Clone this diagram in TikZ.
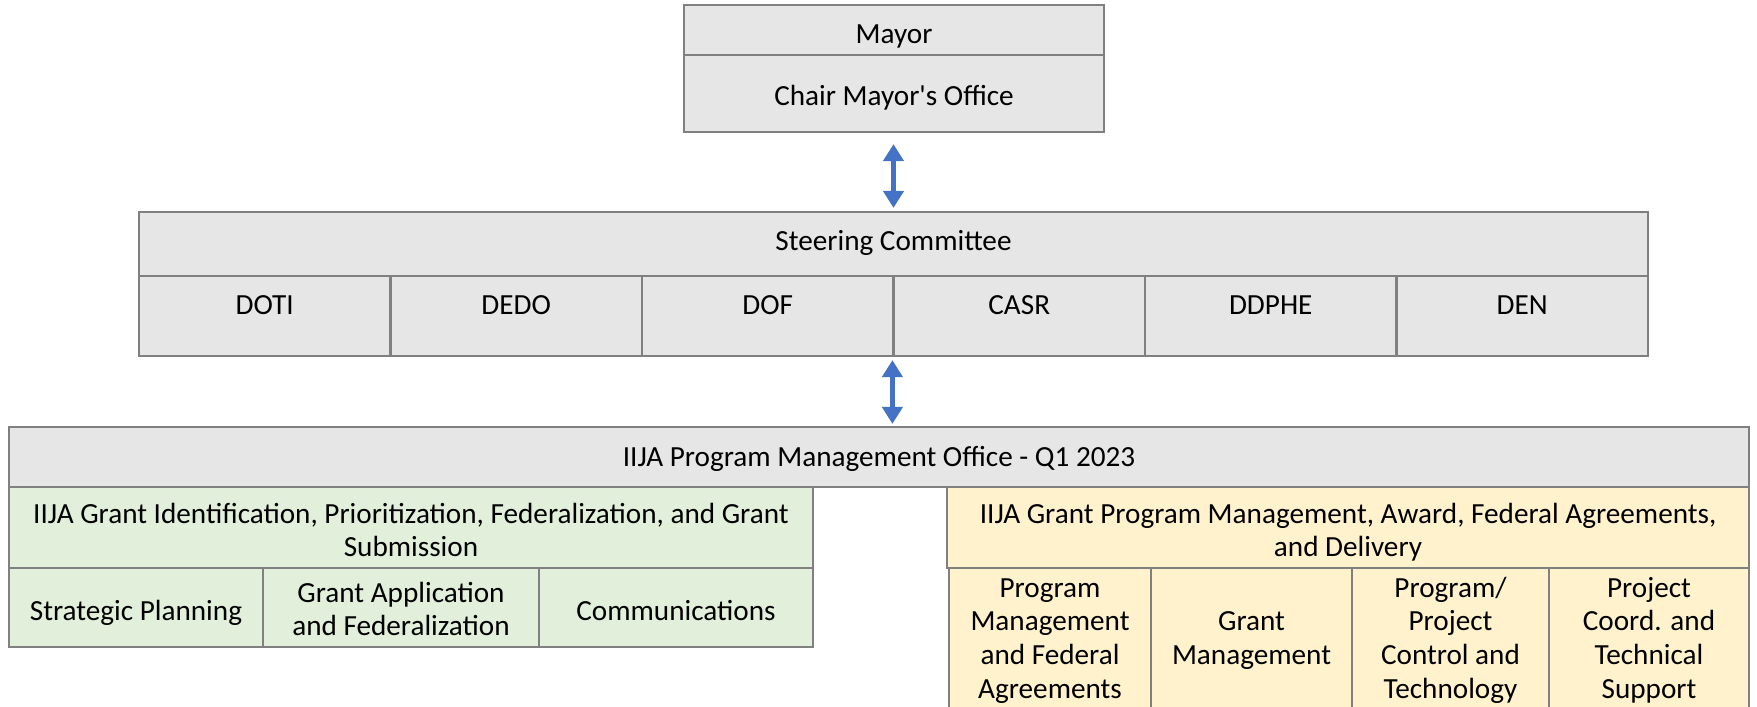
\documentclass[tikz,border=0pt]{standalone}
\usepackage{fontspec}
\setmainfont{Carlito}
\usetikzlibrary{arrows.meta}
\definecolor{cellgray}{HTML}{E6E6E6}
\definecolor{cellline}{HTML}{808080}
\definecolor{cellgreen}{HTML}{E2EFDA}
\definecolor{cellyellow}{HTML}{FFF2CC}
\definecolor{arrowblue}{HTML}{4472C4}
\tikzset{
  cell/.style={draw=cellline, line width=1.1pt, inner sep=0pt, align=center,
    font=\fontsize{14.6pt}{16.8pt}\selectfont},
  textbox/.style 2 args={text height=#1, text depth=#2},
  graycell/.style={cell, fill=cellgray},
  greencell/.style={cell, fill=cellgreen},
  yellowcell/.style={cell, fill=cellyellow},
  topcell/.style={graycell, textbox={19pt}{21pt}},
  linkarrow/.style={arrowblue, line width=2.5pt,
    {Triangle[width=10pt,length=8.5pt]}-{Triangle[width=10pt,length=8.5pt]}}
}
\begin{document}
\begin{tikzpicture}[x=0.5pt,y=-0.5pt]
\useasboundingbox (0,0) rectangle (1757,707);
% Mayor
\node[graycell, textbox={19pt}{6pt}, minimum width=210pt, minimum height=25pt] (mayor) at (894,30) {Mayor};
\node[graycell, textbox={25.3pt}{13.2pt}, minimum width=210pt, minimum height=38.5pt] (chair) at (894,93.5) {Chair Mayor\textquotesingle s Office};
% Steering committee
\node[graycell, textbox={19.1pt}{12.9pt}, minimum width=754.5pt, minimum height=32pt] (steer) at (893.5,244) {Steering Committee};
\node[topcell, minimum width=125.75pt, minimum height=40pt] (doti) at (264.75,316) {DOTI};
\node[topcell, minimum width=125.75pt, minimum height=40pt] (dedo) at (516.25,316) {DEDO};
\node[topcell, minimum width=125.75pt, minimum height=40pt] (dof) at (767.75,316) {DOF};
\node[topcell, minimum width=125.75pt, minimum height=40pt] (casr) at (1019.25,316) {CASR};
\node[topcell, minimum width=125.75pt, minimum height=40pt] (ddphe) at (1270.75,316) {DDPHE};
\node[topcell, minimum width=125.75pt, minimum height=40pt] (den) at (1522.25,316) {DEN};
% PMO
\node[graycell, textbox={19.8pt}{10.2pt}, minimum width=870pt, minimum height=30pt] (pmo) at (879,457) {IIJA Program Management Office - Q1 2023};
% Green branch
\node[greencell, textbox={34.8pt}{5.7pt}, minimum width=402pt, minimum height=40.5pt] (ghead) at (411,527.5)
  {IIJA Grant Identification, Prioritization, Federalization, and Grant\\Submission};
\node[greencell, textbox={26.05pt}{13.45pt}, minimum width=127pt, minimum height=39.5pt] (sp) at (136,607.5) {Strategic Planning};
\node[greencell, textbox={33.9pt}{5.6pt}, minimum width=138pt, minimum height=39.5pt] (ga) at (401,607.5) {Grant Application\\and Federalization};
\node[greencell, textbox={26.05pt}{13.45pt}, minimum width=137pt, minimum height=39.5pt] (comm) at (676,607.5) {Communications};
% Yellow branch
\node[yellowcell, textbox={34.8pt}{5.7pt}, minimum width=401pt, minimum height=40.5pt] (yhead) at (1348,527.5)
  {IIJA Grant Program Management, Award, Federal Agreements,\\and Delivery};
\node[yellowcell, textbox={65pt}{5.5pt}, minimum width=101pt, minimum height=70.5pt] (pm) at (1050,638.5)
  {Program\\Management\\and Federal\\Agreements};
\node[yellowcell, textbox={48.15pt}{22.35pt}, minimum width=100.5pt, minimum height=70.5pt] (gm) at (1251.5,638.5)
  {Grant\\Management};
\node[yellowcell, textbox={65pt}{5.5pt}, minimum width=98.5pt, minimum height=70.5pt] (pc) at (1450.5,638.5)
  {Program/\\Project\\Control and\\Technology};
\node[yellowcell, textbox={65pt}{5.5pt}, minimum width=100pt, minimum height=70.5pt] (pt) at (1649,638.5)
  {Project\\Coord. and\\Technical\\Support};
% Arrows
\draw[linkarrow, shorten <=5.5pt, shorten >=1.5pt] (chair.south -| steer.north) -- (steer.north);
\draw[linkarrow, shorten <=1.5pt, shorten >=1pt] (casr.south west) -- (casr.south west |- pmo.north);
\end{tikzpicture}
\end{document}
